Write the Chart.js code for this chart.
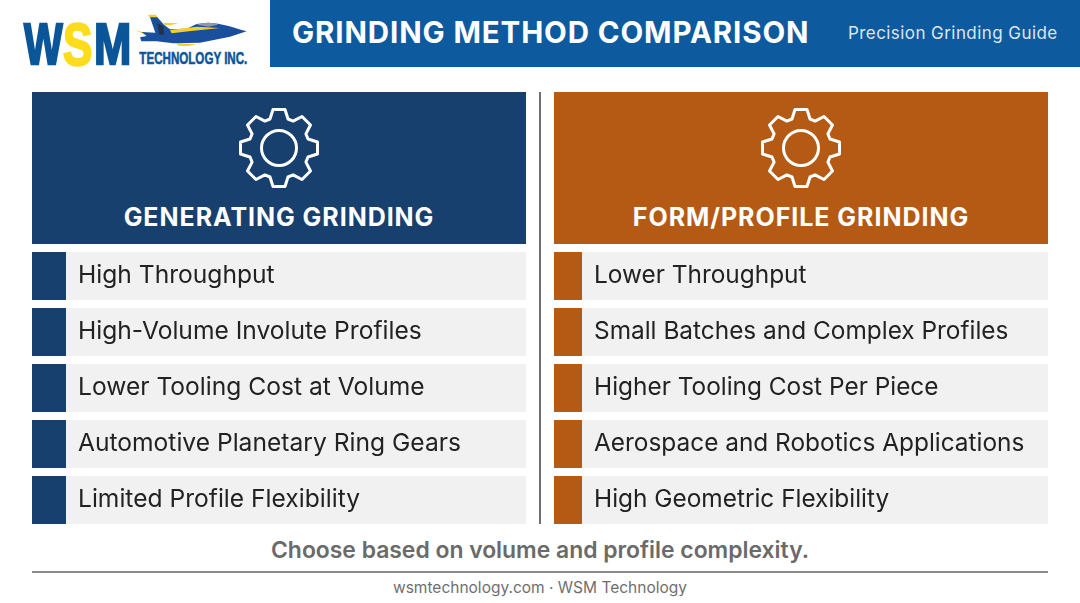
<!DOCTYPE html>
<html>
<head>
<meta charset="utf-8">
<title>Grinding Method Comparison</title>
<script src="https://cdn.jsdelivr.net/npm/chart.js@4/dist/chart.umd.min.js"></script>
<style>
  html, body { margin: 0; padding: 0; background: #fff; }
  body { position: relative; width: 1080px; height: 603px; overflow: hidden; font-family: Inter, "Open Sans", sans-serif; }
  .abs { position: absolute; }
  .band { left: 270px; top: 0; width: 810px; height: 67px; background: #0d5a9e; }
  .title { left: 292px; top: 13px; color: #fff; font-size: 29.5px; font-weight: 700; line-height: 38px; white-space: nowrap; letter-spacing: 0.88px; }
  .guide { left: 848px; top: 21px; color: #dbe6f2; font-size: 17px; line-height: 24px; white-space: nowrap; letter-spacing: 0.43px; }
  .panel { top: 92px; width: 494px; height: 152px; }
  .panel .name { position: absolute; left: 0; right: 0; top: 108px; text-align: center; color: #fff; font-size: 25px; font-weight: 700; line-height: 34px; letter-spacing: 0.95px; }
  .panel svg { position: absolute; left: 197px; top: 6px; }
  .divider { left: 539px; top: 92px; width: 2px; height: 432px; background: #6f6f6f; }
  .chartbox { top: 248px; width: 494px; height: 280px; }
  .note { left: 0; width: 1080px; top: 535px; text-align: center; color: #6a6a6a; font-size: 22.9px; font-weight: 600; line-height: 30px; }
  .rule { left: 32px; top: 571px; width: 1016px; height: 2px; background: #8a8a8a; }
  .foot { left: 0; width: 1080px; top: 578px; text-align: center; color: #6f6f6f; font-size: 15.5px; line-height: 20px; }
</style>
</head>
<body>
<svg class="abs" style="left:0;top:0" width="280" height="75" viewBox="0 0 840 225">
  <g font-family="Liberation Sans Narrow, Liberation Sans, sans-serif" font-weight="700">
    <text x="72" y="191" font-size="170" fill="#0b5599" stroke="#0b5599" stroke-width="7" textLength="116" lengthAdjust="spacingAndGlyphs">W</text>
    <text x="189" y="194" font-size="178" fill="#fcdc1c" stroke="#fcdc1c" stroke-width="7" textLength="88" lengthAdjust="spacingAndGlyphs">S</text>
    <text x="282" y="191" font-size="170" fill="#0b5599" stroke="#0b5599" stroke-width="7" textLength="112" lengthAdjust="spacingAndGlyphs">M</text>
    <text x="418" y="192" font-size="50" fill="#0b5599" stroke="#0b5599" stroke-width="1.6" textLength="324" lengthAdjust="spacingAndGlyphs">TECHNOLOGY INC.</text>
  </g>
  <path fill="#f2d028" d="M444 44 L468 44 L474 54 L450 54 Z"/>
  <path fill="#f2d028" d="M490 68 L535 70 L510 76 L495 76 Z M405 90 L440 100 L438 105 Z M528 130 L590 132 L565 138 L535 137 Z"/>
  <path fill="#1a4f9c" d="M740 94 C700 82 665 70 625 68 L590 72 L560 86 L510 88 L492 74 L472 52 L450 52 L466 98 L425 96 L440 108 L420 112 L424 124 L470 124 L520 130 L600 128 L690 110 Z"/>
  <path fill="#f2d028" d="M510 90 L590 80 L660 84 L580 92 L515 100 Z"/>
  <path fill="#8d99a6" d="M590 74 C610 66 640 66 655 74 L625 80 Z"/>
  <path fill="#22324a" d="M472 70 L490 78 L492 104 L478 104 Z"/>
</svg>
<div class="abs band"></div>
<div class="abs title">GRINDING METHOD COMPARISON</div>
<div class="abs guide">Precision Grinding Guide</div>

<div class="abs panel" style="left:32px;background:#17406f">
  <svg class="gear" width="100" height="100" viewBox="-50 -50 100 100"></svg>
  <div class="name">GENERATING GRINDING</div>
</div>
<div class="abs panel" style="left:554px;background:#b55a14">
  <svg class="gear" width="100" height="100" viewBox="-50 -50 100 100"></svg>
  <div class="name">FORM/PROFILE GRINDING</div>
</div>
<div class="abs divider"></div>

<div class="abs chartbox" style="left:32px"><canvas id="leftChart"></canvas></div>
<div class="abs chartbox" style="left:554px"><canvas id="rightChart"></canvas></div>

<div class="abs note">Choose based on volume and profile complexity.</div>
<div class="abs rule"></div>
<div class="abs foot">wsmtechnology.com · WSM Technology</div>

<script>
const leftLabels = ['High Throughput', 'High-Volume Involute Profiles', 'Lower Tooling Cost at Volume', 'Automotive Planetary Ring Gears', 'Limited Profile Flexibility'];
const rightLabels = ['Lower Throughput', 'Small Batches and Complex Profiles', 'Higher Tooling Cost Per Piece', 'Aerospace and Robotics Applications', 'High Geometric Flexibility'];
const leftAccent = [34, 34, 34, 34, 34];
const leftBody = [460, 460, 460, 460, 460];
const rightAccent = [28, 28, 28, 28, 28];
const rightBody = [466, 466, 466, 466, 466];

// gear icon outline, 8 teeth
const gearPath = () => {
    let d = '';
    for (let i = 0; i < 8; i++) {
        const a = i * Math.PI / 4 - Math.PI / 2;
        const pt = (r, off) => {
            const x = r * Math.cos(a) - off * Math.sin(a);
            const y = r * Math.sin(a) + off * Math.cos(a);
            return x.toFixed(1) + ' ' + y.toFixed(1);
        };
        d += (i ? 'L' : 'M') + pt(29, -9) + 'L' + pt(38.5, -6) + 'L' + pt(38.5, 6) + 'L' + pt(29, 9);
    }
    return d + 'Z';
};
document.querySelectorAll('.gear').forEach(svg => {
    svg.innerHTML = `<path d="${gearPath()}" fill="none" stroke="#fff" stroke-width="3" stroke-linejoin="round"/>` +
        '<circle r="17.5" fill="none" stroke="#fff" stroke-width="3"/>';
});

const buildRows = (id, labels, accent, body, accentColor, textPad, textSize) => {
    return new Chart(document.getElementById(id), {
        type: 'bar',
        data: {
            labels: labels,
            datasets: [
                { data: accent, backgroundColor: accentColor, barPercentage: 48 / 56, categoryPercentage: 1 },
                { data: body, backgroundColor: '#f1f1f1', barPercentage: 48 / 56, categoryPercentage: 1 }
            ]
        },
        options: {
            indexAxis: 'y',
            responsive: true,
            maintainAspectRatio: false,
            animation: false,
            layout: { padding: 0 },
            scales: {
                x: { stacked: true, display: false, min: 0, max: 494 },
                y: {
                    stacked: true,
                    grid: { display: false },
                    border: { display: false },
                    afterFit: axis => { axis.width = 0; axis.paddingTop = 0; axis.paddingBottom = 0; },
                    ticks: {
                        mirror: true,
                        z: 1,
                        padding: textPad,
                        autoSkip: false,
                        color: '#222222',
                        font: { family: 'Inter, "Open Sans", sans-serif', size: textSize }
                    }
                }
            },
            plugins: { legend: { display: false }, tooltip: { enabled: false } }
        }
    });
};

buildRows('leftChart', leftLabels, leftAccent, leftBody, '#17406f', 46, 24.6);
buildRows('rightChart', rightLabels, rightAccent, rightBody, '#b55a14', 40, 24.4);
</script>
</body>
</html>
